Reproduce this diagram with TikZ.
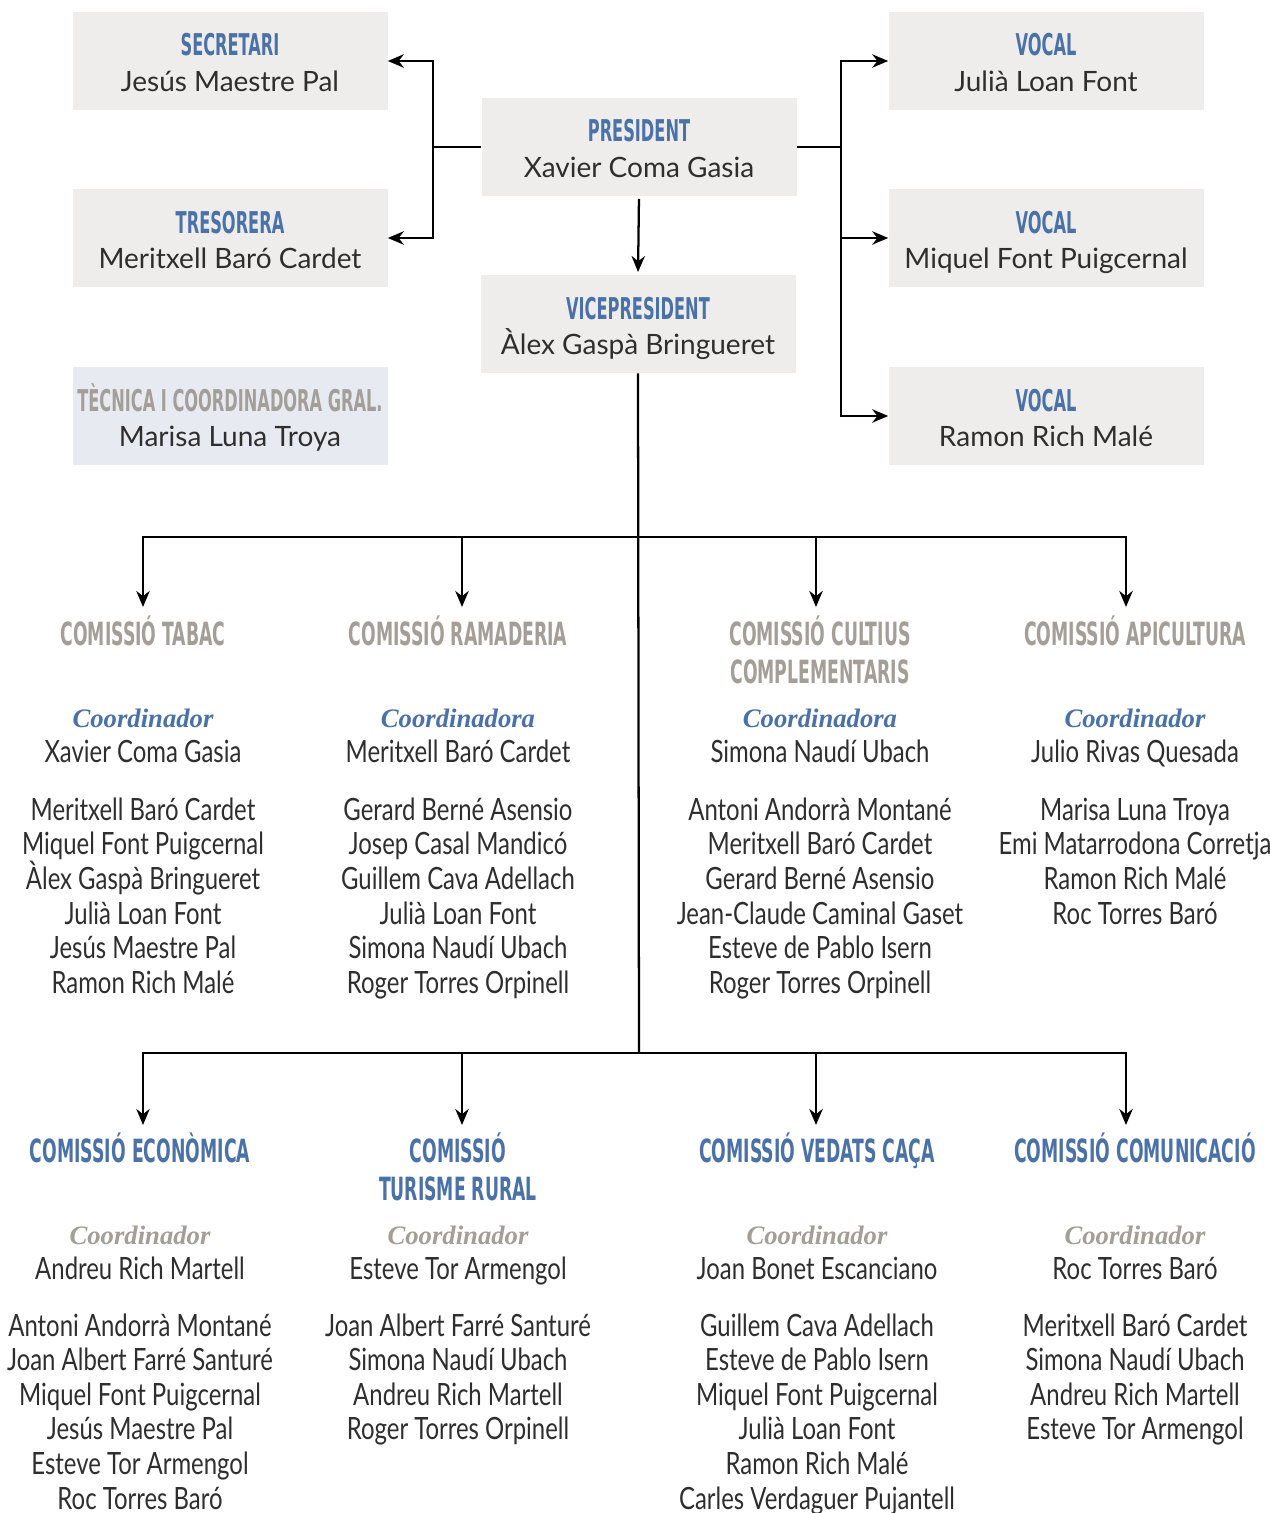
\documentclass[tikz,border=0pt]{standalone}
\usepackage{fontspec}
\usetikzlibrary{arrows.meta}
\setmainfont{Lato}
\newfontfamily\namefont{Lato}
\newfontfamily\listfont[FakeStretch=0.78]{Lato}
\newfontfamily\ttlfont[FakeStretch=0.6]{DejaVu Sans Condensed}
\newfontfamily\crdfont{Liberation Serif}
\definecolor{tblue}{HTML}{4A72A6}
\definecolor{tgrey}{HTML}{A39E97}
\definecolor{boxfill}{HTML}{EFEDEB}
\definecolor{tecfill}{HTML}{E7EBF1}
\definecolor{nmcol}{HTML}{2E2E2E}
\newcommand\orgbox[7]{%
  \node[orgrect,fill=#6] (#1) at (#2,#3+49) {};
  \node[bttl,text=#7] (#1-t) at (#2,#3+44) {#4};
  \node[bnm] (#1-n) at (#2,#3+79) {#5};
}
\begin{document}
\begin{tikzpicture}[x=0.75pt,y=-0.75pt,
  orgrect/.style={rectangle,draw=none,minimum width=236.25pt,minimum height=73.5pt,inner sep=0pt},
  bttl/.style={font=\ttlfont\bfseries\fontsize{22.5}{26}\selectfont,inner sep=0pt,anchor=base},
  bnm/.style={font=\namefont\fontsize{21}{25}\selectfont,text=nmcol,inner sep=0pt,anchor=base},
  cttl/.style={font=\ttlfont\bfseries\fontsize{24}{28}\selectfont,inner sep=0pt,anchor=base},
  crd/.style={font=\crdfont\bfseries\itshape\fontsize{20}{24}\selectfont,inner sep=0pt,anchor=base},
  mem/.style={font=\listfont\fontsize{23}{27}\selectfont,text=nmcol,inner sep=0pt,anchor=base},
  ln/.style={line width=2.2pt,draw=black,line join=miter},
  arr/.style={ln,-{Stealth[length=12pt,width=10pt]}}]
\useasboundingbox (0,0) rectangle (1270,1513);
\fill[white] (0,0) rectangle (1270,1513);

% ---------- top boxes ----------
\orgbox{sec}{230}{12}{SECRETARI}{Jesús Maestre Pal}{boxfill}{tblue}
\orgbox{tres}{230}{189}{TRESORERA}{Meritxell Baró Cardet}{boxfill}{tblue}
\orgbox{tec}{230}{367}{TÈCNICA I COORDINADORA GRAL.}{Marisa Luna Troya}{tecfill}{tgrey}
\orgbox{pres}{639}{98}{PRESIDENT}{Xavier Coma Gasia}{boxfill}{tblue}
\orgbox{vice}{638}{275}{VICEPRESIDENT}{Àlex Gaspà Bringueret}{boxfill}{tblue}
\orgbox{voc1}{1046}{12}{VOCAL}{Julià Loan Font}{boxfill}{tblue}
\orgbox{voc2}{1046}{189}{VOCAL}{Miquel Font Puigcernal}{boxfill}{tblue}
\orgbox{voc3}{1046}{367}{VOCAL}{Ramon Rich Malé}{boxfill}{tblue}

% ---------- connectors top ----------
\coordinate (lj) at (433,147);
\coordinate (rj) at (841,147);
\draw[ln] (pres.west) -- (lj);
\draw[arr] (lj) |- (sec.east);
\draw[arr] (lj) |- (tres.east);
\draw[ln] (pres.east) -- (rj);
\draw[arr] (rj) |- (voc1.west);
\draw[arr] (rj) |- (voc2.west);
\draw[arr] (rj) |- (voc3.west);
\draw[arr,line width=1.7pt,shorten <=2pt,shorten >=2pt] (pres.south) -- (vice.north);

\coordinate (bus1) at (639,537);
\coordinate (bus2) at (639,1053);
\draw[ln,line width=1.7pt] (vice.south) -- (bus2);
\coordinate (tabac-in) at (143,607);
\coordinate (ramad-in) at (462,607);
\coordinate (cult-in) at (816,607);
\coordinate (apic-in) at (1126,607);
\coordinate (econ-in) at (143,1125);
\coordinate (tur-in) at (462,1125);
\coordinate (ved-in) at (816,1125);
\coordinate (com-in) at (1126,1125);
\draw[arr] (bus1) -| (tabac-in);
\draw[arr] (bus1) -| (ramad-in);
\draw[arr] (bus1) -| (cult-in);
\draw[arr] (bus1) -| (apic-in);
\draw[arr] (bus2) -| (econ-in);
\draw[arr] (bus2) -| (tur-in);
\draw[arr] (bus2) -| (ved-in);
\draw[arr] (bus2) -| (com-in);

% ---------- top commissions ----------
\node[cttl,text=tgrey] (tabac) at (143,645) {COMISSIÓ TABAC};
\node[crd,text=tblue] (tabac-c) at (143,727) {Coordinador};
\node[mem] (tabac-k) at (143,762) {Xavier Coma Gasia};
\foreach \m [count=\i] in {Meritxell Baró Cardet,Miquel Font Puigcernal,Àlex Gaspà Bringueret,Julià Loan Font,Jesús Maestre Pal,Ramon Rich Malé}
  \node[mem] (tabac-m\i) at (143,{820+34.7*(\i-1)}) {\m};

\node[cttl,text=tgrey] (ramad) at (458,645) {COMISSIÓ RAMADERIA};
\node[crd,text=tblue] (ramad-c) at (458,727) {Coordinadora};
\node[mem] (ramad-k) at (458,762) {Meritxell Baró Cardet};
\foreach \m [count=\i] in {Gerard Berné Asensio,Josep Casal Mandicó,Guillem Cava Adellach,Julià Loan Font,Simona Naudí Ubach,Roger Torres Orpinell}
  \node[mem] (ramad-m\i) at (458,{820+34.7*(\i-1)}) {\m};

\node[cttl,text=tgrey] (cult) at (820,645) {COMISSIÓ CULTIUS};
\node[cttl,text=tgrey] (cult-2) at (820,683) {COMPLEMENTARIS};
\node[crd,text=tblue] (cult-c) at (820,727) {Coordinadora};
\node[mem] (cult-k) at (820,762) {Simona Naudí Ubach};
\foreach \m [count=\i] in {Antoni Andorrà Montané,Meritxell Baró Cardet,Gerard Berné Asensio,Jean-Claude Caminal Gaset,Esteve de Pablo Isern,Roger Torres Orpinell}
  \node[mem] (cult-m\i) at (820,{820+34.7*(\i-1)}) {\m};

\node[cttl,text=tgrey] (apic) at (1135,645) {COMISSIÓ APICULTURA};
\node[crd,text=tblue] (apic-c) at (1135,727) {Coordinador};
\node[mem] (apic-k) at (1135,762) {Julio Rivas Quesada};
\foreach \m [count=\i] in {Marisa Luna Troya,Emi Matarrodona Corretja,Ramon Rich Malé,Roc Torres Baró}
  \node[mem] (apic-m\i) at (1135,{820+34.7*(\i-1)}) {\m};

% ---------- bottom commissions ----------
\node[cttl,text=tblue] (econ) at (140,1162) {COMISSIÓ ECONÒMICA};
\node[crd,text=tgrey] (econ-c) at (140,1244) {Coordinador};
\node[mem] (econ-k) at (140,1279) {Andreu Rich Martell};
\foreach \m [count=\i] in {Antoni Andorrà Montané,Joan Albert Farré Santuré,Miquel Font Puigcernal,Jesús Maestre Pal,Esteve Tor Armengol,Roc Torres Baró}
  \node[mem] (econ-m\i) at (140,{1336+34.6*(\i-1)}) {\m};

\node[cttl,text=tblue] (tur) at (458,1162) {COMISSIÓ};
\node[cttl,text=tblue] (tur-2) at (458,1200) {TURISME RURAL};
\node[crd,text=tgrey] (tur-c) at (458,1244) {Coordinador};
\node[mem] (tur-k) at (458,1279) {Esteve Tor Armengol};
\foreach \m [count=\i] in {Joan Albert Farré Santuré,Simona Naudí Ubach,Andreu Rich Martell,Roger Torres Orpinell}
  \node[mem] (tur-m\i) at (458,{1336+34.6*(\i-1)}) {\m};

\node[cttl,text=tblue] (ved) at (817,1162) {COMISSIÓ VEDATS CAÇA};
\node[crd,text=tgrey] (ved-c) at (817,1244) {Coordinador};
\node[mem] (ved-k) at (817,1279) {Joan Bonet Escanciano};
\foreach \m [count=\i] in {Guillem Cava Adellach,Esteve de Pablo Isern,Miquel Font Puigcernal,Julià Loan Font,Ramon Rich Malé,Carles Verdaguer Pujantell}
  \node[mem] (ved-m\i) at (817,{1336+34.6*(\i-1)}) {\m};

\node[cttl,text=tblue] (com) at (1135,1162) {COMISSIÓ COMUNICACIÓ};
\node[crd,text=tgrey] (com-c) at (1135,1244) {Coordinador};
\node[mem] (com-k) at (1135,1279) {Roc Torres Baró};
\foreach \m [count=\i] in {Meritxell Baró Cardet,Simona Naudí Ubach,Andreu Rich Martell,Esteve Tor Armengol}
  \node[mem] (com-m\i) at (1135,{1336+34.6*(\i-1)}) {\m};
\end{tikzpicture}
\end{document}
